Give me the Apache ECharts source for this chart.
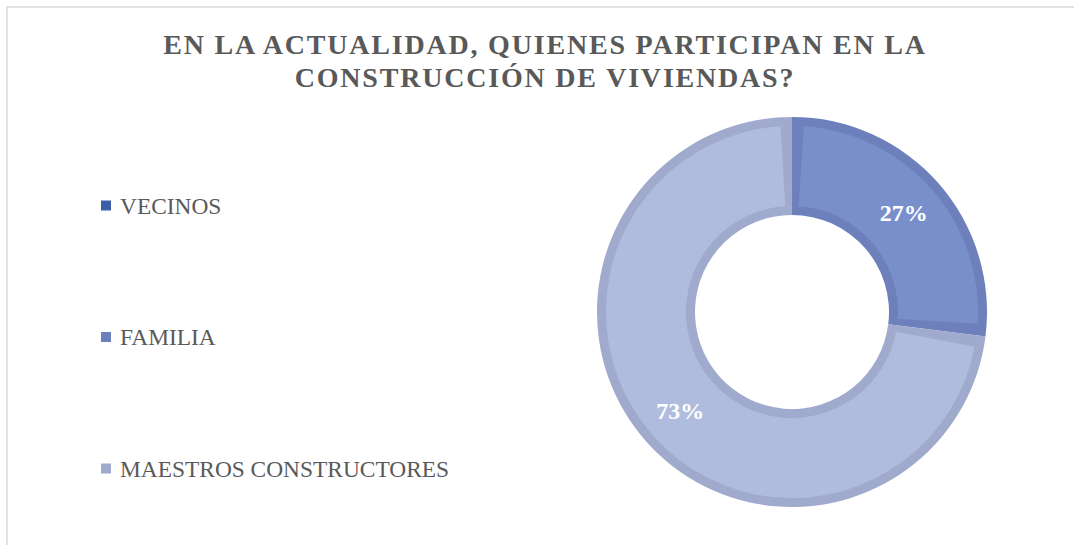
<!DOCTYPE html>
<html>
<head>
<meta charset="utf-8">
<script src="https://cdn.jsdelivr.net/npm/echarts@6/dist/echarts.min.js"></script>
<style>
  html, body { margin: 0; padding: 0; background: #ffffff; }
  #chart { width: 1074px; height: 545px; }
</style>
</head>
<body>
<div id="chart"></div>
<script>
const titleLines = ['EN LA ACTUALIDAD, QUIENES PARTICIPAN EN LA', 'CONSTRUCCIÓN DE VIVIENDAS?'];
const categories = ['VECINOS', 'FAMILIA', 'MAESTROS CONSTRUCTORES'];
const values = [0, 27, 73];
const fillColors = ['#4068b0', '#788fcb', '#b0bcdd'];
const borderColors = ['#3b5ea8', '#6d80bb', '#9faacd'];

const FONT = "'Times New Roman', 'Liberation Serif', serif";

const chart = echarts.init(document.getElementById('chart'), null, { renderer: 'svg' });

const baseData = categories.map((n, i) => ({ name: n, value: values[i], itemStyle: { color: borderColors[i] } }));
const fillData = categories
  .map((n, i) => ({ name: n, value: values[i], itemStyle: { color: fillColors[i] } }))
  .filter(d => d.value > 0);

chart.setOption({
  backgroundColor: '#ffffff',
  animation: false,
  legend: {
    data: categories,
    orient: 'vertical',
    left: 101,
    top: 194,
    padding: 0,
    itemWidth: 10,
    itemHeight: 10,
    itemGap: 108.5,
    icon: 'rect',
    selectedMode: false,
    itemStyle: { borderWidth: 0 },
    textStyle: { fontFamily: FONT, fontSize: 23.4, color: '#595959', lineHeight: 22, padding: [0, 0, 0, 4] }
  },
  graphic: [
    {
      type: 'rect',
      silent: true,
      shape: { x: 7, y: 7, width: 1100, height: 600 },
      style: { fill: 'none', stroke: '#d9d9d9', lineWidth: 1.5 }
    },
    {
      type: 'text',
      silent: true,
      x: 545,
      y: 28,
      style: {
        text: titleLines.join('\n'),
        align: 'center',
        verticalAlign: 'top',
        fontFamily: FONT,
        fontSize: 28,
        fontWeight: 'bold',
        fill: '#595959',
        lineHeight: 33
      }
    }
  ],
  series: [
    {
      name: 'base',
      type: 'pie',
      center: [792, 312],
      radius: [97, 195],
      startAngle: 90,
      clockwise: true,
      silent: true,
      emphasis: { disabled: true },
      label: { show: false },
      labelLine: { show: false },
      itemStyle: { borderWidth: 0 },
      data: baseData
    },
    {
      name: 'fill',
      type: 'pie',
      center: [792, 312],
      radius: [106, 186],
      startAngle: 90,
      clockwise: true,
      padAngle: 7.2,
      silent: true,
      emphasis: { disabled: true },
      labelLine: { show: false },
      itemStyle: { borderWidth: 0 },
      label: {
        show: true,
        position: 'inside',
        formatter: '{c}%',
        color: '#ffffff',
        fontFamily: FONT,
        fontSize: 24,
        fontWeight: 'bold'
      },
      data: fillData
    }
  ]
});

function spaceTitle() {
  document.querySelectorAll('#chart svg text').forEach(t => {
    const s = t.textContent || '';
    if (titleLines.indexOf(s) >= 0) {
      t.style.letterSpacing = '1.8px';
    }
  });
}
chart.on('finished', spaceTitle);
setTimeout(spaceTitle, 50);
</script>
</body>
</html>
